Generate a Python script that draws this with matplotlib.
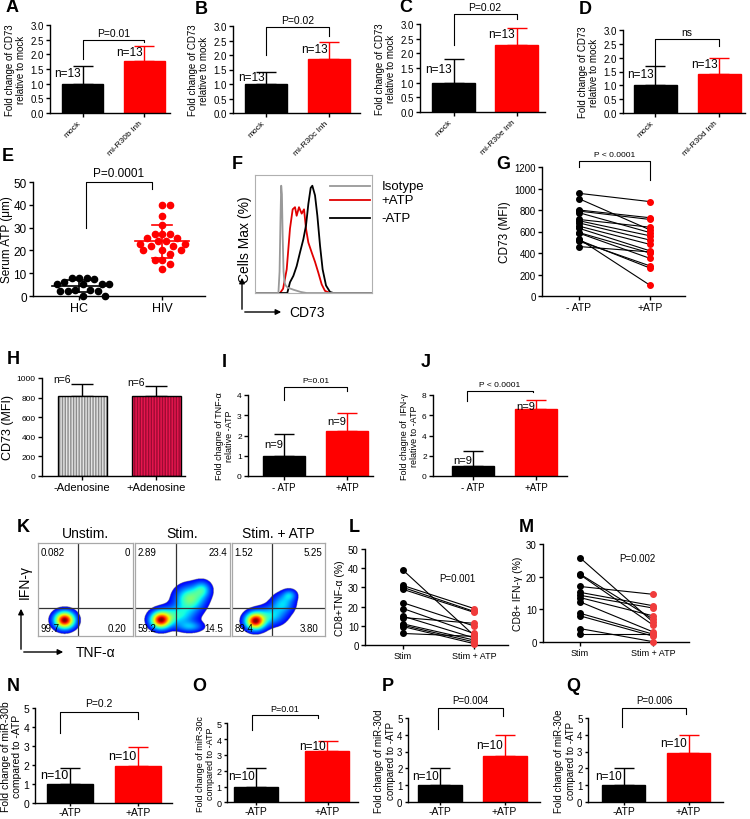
import numpy as np
import matplotlib
matplotlib.use("Agg")
import matplotlib.pyplot as plt
from matplotlib.patches import FancyArrowPatch

plt.rcParams["font.family"] = ["Liberation Sans", "DejaVu Sans"]
plt.rcParams["hatch.linewidth"] = 1.0

# ---- data ----
A_cats = ["mock", "mi-R30b Inh"]; A_mean = [1.0, 1.78]; A_sd = [0.6, 0.49]
B_cats = ["mock", "mi-R30c Inh"]; B_mean = [1.0, 1.86]; B_sd = [0.4, 0.59]
C_cats = ["mock", "mi-R30e Inh"]; C_mean = [1.0, 2.3]; C_sd = [0.8, 0.58]
D_cats = ["mock", "mi-R30d Inh"]; D_mean = [1.0, 1.42]; D_sd = [0.7, 0.58]

E_hc = [8.1, 8.1, 8.1, 7.6, 6.3, 5.3, 5.3, 5.3, 5.2, 2.6, 2.5, 2.4, 2.4, 2.0, 0.2, 0.2]
E_hiv = [40, 40, 35, 31, 27, 27, 27, 25.5, 25.5, 24, 24, 23, 23, 22, 22, 20, 20, 20,
         18.5, 16, 16, 14, 12]

# flow histograms (x in arbitrary CD73 units, y in % of max)
F_iso_x = [0, 200, 210, 218, 224, 230, 236, 244, 252, 262, 280, 330, 390, 440, 1000]
F_iso_y = [0, 0, 20, 70, 100, 92, 55, 20, 10, 7, 5, 3, 1, 0, 0]
F_pos_x = [0, 214, 240, 271, 299, 322, 342, 356, 376, 399, 419, 436, 456, 484, 513, 541, 570, 598, 641, 1000]
F_pos_y = [0, 0, 4, 22, 60, 78, 80, 72, 80, 74, 78, 60, 47, 38, 29, 19, 8, 2, 0, 0]
F_neg_x = [0, 276, 299, 328, 356, 385, 413, 436, 456, 476, 490, 513, 533, 556, 578, 607, 641, 670, 1000]
F_neg_y = [0, 0, 10, 16, 25, 38, 50, 63, 83, 98, 100, 91, 72, 44, 22, 7, 1, 0, 0]

G_minus = [955, 905, 800, 790, 775, 712, 700, 680, 650, 630, 590, 585, 530, 520, 510, 460]
G_plus = [878, 615, 728, 712, 590, 640, 560, 520, 480, 420, 400, 350, 100, 260, 280, 410]

H_cats = ["-Adenosine", "+Adenosine"]; H_mean = [816, 816]; H_sd = [124, 100]
I_cats = ["- ATP", "+ATP"]; I_mean = [1.0, 2.22]; I_sd = [1.05, 0.88]
J_cats = ["- ATP", "+ATP"]; J_mean = [1.0, 6.58]; J_sd = [1.45, 0.95]

K_titles = ["Unstim.", "Stim.", "Stim. + ATP"]
K_quads = [["0.082", "0", "99.7", "0.20"],
           ["2.89", "23.4", "59.2", "14.5"],
           ["1.52", "5.25", "89.4", "3.80"]]
# density blobs per plot: (cx, cy, sx, sy, weight) in % of the plot box
K_blobs = [[(28, 17, 7, 6, 1.0)],
           [(27, 17, 7, 6, 1.0), (44, 22, 12, 7, 0.35), (58, 40, 10, 9, 0.5),
            (71, 50, 6, 6, 0.3), (58, 10, 9, 4, 0.25)],
           [(25, 16, 7, 6, 1.0), (42, 22, 10, 7, 0.3), (55, 35, 8, 7, 0.28),
            (62, 44, 5, 4, 0.22)]]

L_stim = [39, 31, 30, 29, 22, 19, 15, 14.3, 11, 10.3, 9.6, 6]
L_atp = [5, 19, 17.5, 17, 9.9, 6, 3.7, 11.3, 2.6, 1.6, 0.7, 4.5]
M_stim = [25.8, 20.8, 20.6, 17, 15.2, 14.3, 13.6, 12.3, 8.8, 8.0, 4.1, 2.4]
M_atp = [6.1, 7.0, 5.2, 14.6, 11.1, 10.4, 8.0, 3.1, 2.4, 1.8, 0.1, 2.4]
LM_cats = ["Stim", "Stim + ATP"]

NQ_cats = ["-ATP", "+ATP"]
N_mean = [1.0, 1.95]; N_sd = [0.82, 0.97]
O_mean = [1.0, 3.23]; O_sd = [1.18, 0.62]
P_mean = [1.0, 2.74]; P_sd = [1.0, 1.22]
Q_mean = [1.0, 2.9]; Q_sd = [1.0, 1.1]

RED = "#ff0000"
W, H = 750, 820
fig = plt.figure(figsize=(7.5, 8.2), dpi=100)


def add_ax(x0, x1, y0, y1):
    # pixel box, y counted from the top
    return fig.add_axes([x0 / W, 1 - y1 / H, (x1 - x0) / W, (y1 - y0) / H])


def fxy(x, y):
    return x / W, 1 - y / H


def letter(s, x, y):
    fig.text(*fxy(x, y), s, fontsize=13, fontweight="bold", va="center", ha="left")


def prism(ax, fs=7, tl=3):
    for s in ("top", "right"):
        ax.spines[s].set_visible(False)
    for s in ("left", "bottom"):
        ax.spines[s].set_linewidth(1.0)
    ax.tick_params(direction="out", length=tl, width=1, labelsize=fs, pad=1.5)


def set_cats(ax, x0, x1, c0, c1):
    u = c1 - c0
    ax.set_xlim((x0 - c0) / u, 1 + (x1 - c1) / u)
    ax.set_xticks([0, 1])
    return u


def bracket(ax, xa, xb, top, yl, yr, label, fs, pad):
    ax.plot([xa, xa, xb, xb], [yl, top, top, yr], color="k", lw=0.8, clip_on=False)
    ax.text((xa + xb) / 2, top + pad, label, ha="center", va="bottom", fontsize=fs, clip_on=False)


def bar_pair(ax, means, sds, width, nlab, nfs, nfrac=0.6, capsize=7):
    colors = ["k", RED]
    for i in range(2):
        ax.bar(i, means[i], width=width, color=colors[i], edgecolor=colors[i], zorder=2)
        ax.errorbar(i, means[i], yerr=[[0], [sds[i]]], color=colors[i], capsize=capsize,
                    elinewidth=1, capthick=1, zorder=1)
        ax.text(i - 0.02, means[i] + nfrac * sds[i], nlab, ha="right", va="center", fontsize=nfs)


# ---- A-D ----
for (x0, x1, y0, y1, c0, c1, bw, cats, mean, sd, br, lab, lx, ly) in [
    (50, 170, 26, 114, 82.5, 144, 41, A_cats, A_mean, A_sd, (2.5, 1.85, 2.42, "P=0.01"), "A", 6, 8),
    (233, 360, 27, 114, 266, 329, 42, B_cats, B_mean, B_sd, (2.98, 2.0, 2.67, "P=0.02"), "B", 195, 9),
    (420, 545, 25, 113, 453.5, 516.5, 43, C_cats, C_mean, C_sd, (3.34, 2.3, 3.17, "P=0.02"), "C", 399, 8),
    (623, 745, 31, 114, 655, 719, 43, D_cats, D_mean, D_sd, (2.67, 1.7, 2.42, "ns"), "D", 579, 10)]:
    ax = add_ax(x0, x1, y0, y1)
    prism(ax, 7)
    u = set_cats(ax, x0, x1, c0, c1)
    bar_pair(ax, mean, sd, bw / u, "n=13", 8.5)
    ax.set_ylim(0, 3)
    ax.set_yticks(np.arange(0, 3.01, 0.5))
    ax.yaxis.set_major_formatter("{x:.1f}")
    ax.set_xticklabels(cats, rotation=45, ha="right", va="top", fontsize=6)
    ax.set_ylabel("Fold change of CD73\nrelative to mock", fontsize=7, labelpad=3)
    bracket(ax, 0, 1, *br, fs=7.5, pad=0.07)
    letter(lab, lx, ly)

# ---- E ----
ax = add_ax(33, 205, 183, 297)
prism(ax, 8.5)
u = set_cats(ax, 33, 205, 79, 162)
ax.set_ylim(0, 50)
ax.set_yticks(range(0, 51, 10))
ax.set_xticklabels(["HC", "HIV"], fontsize=9)
ax.set_ylabel("Serum ATP (μm)", fontsize=8.5, labelpad=0.5)
ppy = 114 / 50


def swarm(vals, diam=7.5):
    placed, offs = [], np.zeros(len(vals))
    for k in np.argsort(vals)[::-1]:
        y = vals[k] * ppy
        for step in range(60):
            c = ((step + 1) // 2) * diam * 0.5 * (1 if step % 2 else -1)
            if all((c - ox) ** 2 + (y - oy) ** 2 >= diam ** 2 for ox, oy in placed):
                break
        placed.append((c, y))
        offs[k] = c
    return offs


for i, (vals, col, mw, cw) in enumerate([(E_hc, "k", 27, 13), (E_hiv, RED, 27, 10)]):
    vals = np.array(vals, dtype=float)
    ax.plot(i + swarm(vals) / u, vals, "o", color=col, ms=4.5, clip_on=False, zorder=3)
    m, s = vals.mean(), vals.std(ddof=1)
    ax.plot([i - mw / u, i + mw / u], [m, m], color=col, lw=1.2, zorder=2)
    ax.plot([i, i], [m - s, m + s], color=col, lw=1.2, zorder=2)
    for y in (m - s, m + s):
        ax.plot([i - cw / u, i + cw / u], [y, y], color=col, lw=1.2, zorder=2)
bracket(ax, 7 / u, 73 / u, 50, 30, 47, "P=0.0001", fs=8.5, pad=1.2)
letter("E", 2, 157)

# ---- F ----
ax = fig.add_axes([255 / W, 1 - 294 / H, 117 / W, 118 / H])
ax.set_xlim(0, 1000)
ax.set_ylim(0, 110)
ax.set_xticks([])
ax.set_yticks([])
for s in ax.spines.values():
    s.set_color("#b0b0b0")
    s.set_linewidth(0.8)
ax.plot(F_pos_x, F_pos_y, color="#e00000", lw=1.3)
ax.plot(F_neg_x, F_neg_y, color="k", lw=1.3)
ax.plot(F_iso_x, F_iso_y, color="#999999", lw=1.3)
for yy, col, txt in [(0.907, "#999999", "Isotype"), (0.788, "#e00000", "+ATP"), (0.636, "k", "-ATP")]:
    ax.plot([0.64, 0.98], [yy, yy], color=col, lw=1.3, transform=ax.transAxes, clip_on=False)
    ax.text(1.08, yy, txt, transform=ax.transAxes, fontsize=9.5, va="center", ha="left")
fig.add_artist(FancyArrowPatch(fxy(242, 313), fxy(242, 276), transform=fig.transFigure,
                               arrowstyle="-|>", mutation_scale=8, lw=1, color="k"))
fig.add_artist(FancyArrowPatch(fxy(242, 313), fxy(284, 313), transform=fig.transFigure,
                               arrowstyle="-|>", mutation_scale=8, lw=1, color="k"))
fig.text(*fxy(245, 240), "Cells Max (%)", rotation=90, fontsize=10, ha="center", va="center")
fig.text(*fxy(289, 313), "CD73", fontsize=10, ha="left", va="center")
letter("F", 232, 165)

# ---- G ----
ax = add_ax(542, 685, 168, 297)
prism(ax, 7)
set_cats(ax, 542, 685, 579, 650)
ax.set_ylim(0, 1200)
ax.set_yticks(range(0, 1201, 200))
ax.set_xticklabels(["- ATP", "+ATP"], fontsize=7.5)
ax.set_ylabel("CD73 (MFI)", fontsize=8.5, labelpad=2)
for a, b in zip(G_minus, G_plus):
    ax.plot([0, 1], [a, b], color="k", lw=0.8)
ax.plot(np.zeros(len(G_minus)), G_minus, "o", color="k", ms=4, zorder=3)
ax.plot(np.ones(len(G_plus)), G_plus, "o", color=RED, ms=4, zorder=3)
bracket(ax, 0, 1, 1258, 1197, 1079, "P < 0.0001", fs=6, pad=25)
letter("G", 496, 165)

# ---- H ----
ax = add_ax(42, 185, 379, 477)
prism(ax, 6)
u = set_cats(ax, 42, 185, 82, 156)
ax.set_ylim(0, 1000)
ax.set_yticks(range(0, 1001, 200))
ax.set_xticklabels(H_cats, fontsize=8)
ax.set_ylabel("CD73 (MFI)", fontsize=9, labelpad=2)
for i, (face, hcol) in enumerate([("#e4e4e4", "#8c8c8c"), ("#e8164f", "#9c0a32")]):
    ax.bar(i, H_mean[i], width=49 / u, color=face, edgecolor=hcol, hatch="||||||", lw=0, zorder=2)
    ax.bar(i, H_mean[i], width=49 / u, fill=False, edgecolor="k", lw=1, zorder=3)
    ax.errorbar(i, H_mean[i], yerr=[[0], [H_sd[i]]], color="k", capsize=8, elinewidth=1,
                capthick=1, zorder=1)
    ax.text(i - 0.15, H_mean[i] + H_sd[i] + 45, "n=6", ha="right", va="center", fontsize=7.5)
letter("H", 7, 360)

# ---- I ----
ax = add_ax(248, 373, 396, 477)
prism(ax, 6)
u = set_cats(ax, 248, 373, 284, 347)
bar_pair(ax, I_mean, I_sd, 42 / u, "n=9", 8, nfrac=0.55)
ax.set_ylim(0, 4)
ax.set_yticks(range(0, 5))
ax.set_xticklabels(I_cats, fontsize=7)
ax.set_ylabel("Fold chagne of TNF-α\nrelative -ATP", fontsize=6.5, labelpad=2)
bracket(ax, 0, 1, 4.4, 3.75, 4.2, "P=0.01", fs=6, pad=0.12)
letter("I", 222, 363)

# ---- J ----
ax = add_ax(433, 567, 396, 477)
prism(ax, 6)
u = set_cats(ax, 433, 567, 473, 536)
bar_pair(ax, J_mean, J_sd, 42 / u, "n=9", 8, nfrac=0.4)
ax.set_ylim(0, 8)
ax.set_yticks(range(0, 9, 2))
ax.set_xticklabels(J_cats, fontsize=7)
ax.set_ylabel("Fold chagne of  IFN-γ\nrelative to -ATP", fontsize=6.5, labelpad=2)
bracket(ax, -0.1, 0.95, 8.4, 7.4, 8.3, "P < 0.0001", fs=6, pad=0.25)
letter("J", 421, 363)

# ---- K ----
gx, gy = np.meshgrid(np.linspace(0, 100, 300), np.linspace(0, 100, 300))
for k, (x0, x1, vx) in enumerate([(38, 133, 42), (135, 230, 43), (232, 325, 43)]):
    ax = add_ax(x0, x1, 544, 637)
    ax.set_xlim(0, 100)
    ax.set_ylim(0, 100)
    ax.set_xticks([])
    ax.set_yticks([])
    for s in ax.spines.values():
        s.set_color("#a8a8a8")
        s.set_linewidth(0.9)
    z = np.zeros_like(gx)
    for cx, cy, sx, sy, w in K_blobs[k]:
        z += w * np.exp(-((gx - cx) ** 2 / (2 * sx ** 2) + (gy - cy) ** 2 / (2 * sy ** 2)))
    z = z / z.max()
    ax.imshow(np.ma.masked_less(z, 0.05), extent=(0, 100, 0, 100), origin="lower",
              cmap="jet", vmin=-0.08, vmax=1.0, aspect="auto", interpolation="bilinear")
    ax.axvline(vx, color="#333333", lw=0.9)
    ax.axhline(30, color="#333333", lw=0.9)
    q = K_quads[k]
    ax.text(3, 90, q[0], fontsize=7, ha="left", va="center")
    ax.text(97, 90, q[1], fontsize=7, ha="right", va="center")
    ax.text(3, 9, q[2], fontsize=7, ha="left", va="center")
    ax.text(93, 9, q[3], fontsize=7, ha="right", va="center")
    ax.set_title(K_titles[k], fontsize=10, pad=4)
fig.add_artist(FancyArrowPatch(fxy(21, 653), fxy(21, 607), transform=fig.transFigure,
                               arrowstyle="-|>", mutation_scale=8, lw=1, color="k"))
fig.add_artist(FancyArrowPatch(fxy(21, 653), fxy(66, 653), transform=fig.transFigure,
                               arrowstyle="-|>", mutation_scale=8, lw=1, color="k"))
fig.text(*fxy(25, 582), "IFN-γ", rotation=90, fontsize=10, ha="center", va="center")
fig.text(*fxy(76, 653), "TNF-α", fontsize=10, ha="left", va="center")
letter("K", 17, 527)

# ---- L / M ----
for (x0, x1, y0, y1, c0, c1, ymax, yt, s, a, ylab, ptxt, pxy, lab, lx) in [
    (365, 508, 550, 646, 403, 474, 50, 10, L_stim, L_atp, "CD8+TNF-α (%)", "P=0.001", (0.77, 35), "L", 349),
    (543, 689, 545, 643, 580, 653, 30, 10, M_stim, M_atp, "CD8+ IFN-γ (%)", "P=0.002", (0.78, 25.7), "M", 519)]:
    ax = add_ax(x0, x1, y0, y1)
    prism(ax, 7)
    set_cats(ax, x0, x1, c0, c1)
    ax.set_ylim(0, ymax)
    ax.set_yticks(range(0, ymax + 1, yt))
    ax.set_xticklabels(LM_cats, fontsize=6.5)
    ax.set_ylabel(ylab, fontsize=7.5, labelpad=2)
    for p, q in zip(s, a):
        ax.plot([0, 1], [p, q], color="k", lw=0.8, clip_on=False)
    ax.plot(np.zeros(len(s)), s, "o", color="k", ms=4, zorder=3, clip_on=False)
    ax.plot(np.ones(len(a)), a, "o", color="#f03c3c", ms=4, zorder=3, clip_on=False)
    ax.text(*pxy, ptxt, fontsize=7, ha="center", va="center")
    letter(lab, lx, 527)

# ---- N-Q ----
for (x0, x1, y0, y1, c0, c1, bw, mean, sd, br, mir, fs, nfs, lab, lx) in [
    (35, 172, 708.7, 803.7, 70, 138, 46, N_mean, N_sd, (-0.15, 1.0, 4.78, 3.68, 4.41, "P=0.2"), "b", 7.5, 9, "N", 7),
    (227, 358, 724.3, 803.3, 256, 327.5, 44, O_mean, O_sd, (-0.06, 0.87, 5.5, 4.58, 5.33, "P=0.01"), "c", 6.5, 8.5, "O", 192),
    (408, 540, 718.7, 803.2, 440, 504.5, 44, P_mean, P_sd, (-0.03, 0.98, 5.57, 4.34, 5.1, "P=0.004"), "d", 7, 8.5, "P", 382),
    (588, 723, 718.7, 803.2, 623.5, 688.5, 43, Q_mean, Q_sd, (-0.02, 0.96, 5.57, 4.45, 5.2, "P=0.006"), "e", 7, 8.5, "Q", 566)]:
    ax = add_ax(x0, x1, y0, y1)
    prism(ax, fs, tl=2.5)
    ax.tick_params(axis="x", pad=0.5)
    u = set_cats(ax, x0, x1, c0, c1)
    bar_pair(ax, mean, sd, bw / u, "n=10", nfs, nfrac=0.55)
    ax.set_ylim(0, 5)
    ax.set_yticks(range(0, 6))
    ax.set_xticklabels(NQ_cats, fontsize=7.5)
    ax.set_ylabel(f"Fold change of miR-30{mir}\ncompared to -ATP", fontsize=fs, labelpad=1)
    bracket(ax, *br, fs=fs, pad=0.18)
    letter(lab, lx, 687)

fig.savefig("out.png", dpi=100)
